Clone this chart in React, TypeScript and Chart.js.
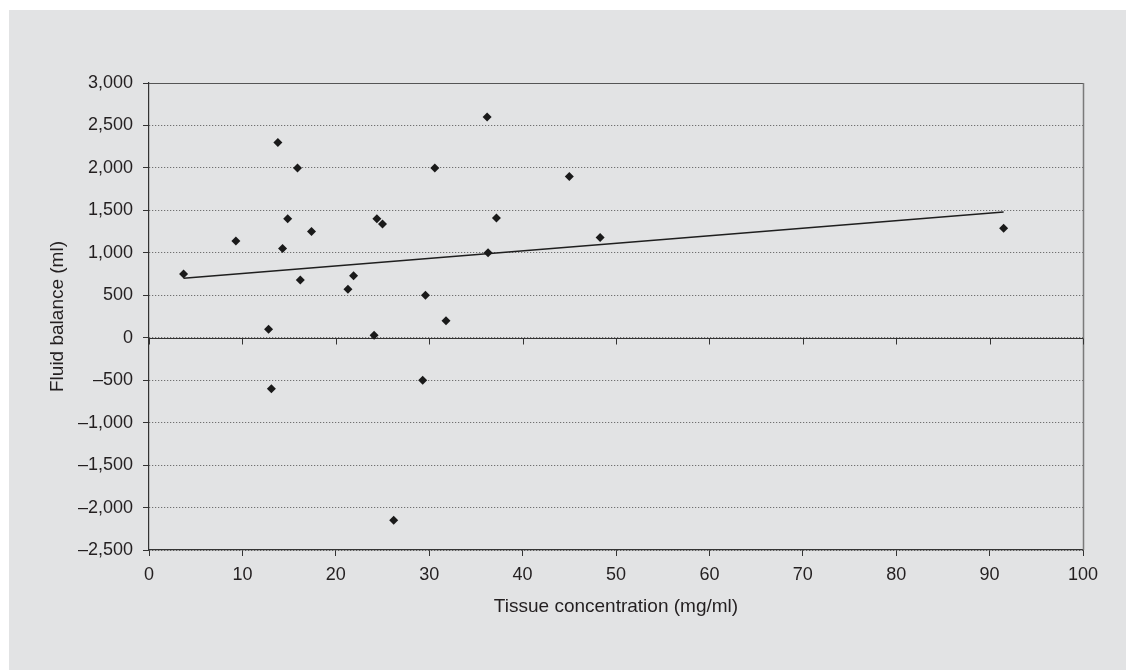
import React, { useEffect, useRef } from "react";
import { Chart, registerables } from "chart.js";

Chart.register(...registerables);

// Data
const tissueConcentration = [
  3.7, 9.3, 12.8, 13.1, 13.8, 14.3, 14.85, 15.9, 16.2, 17.4, 21.3, 21.9, 24.1,
  24.4, 25.0, 26.2, 29.3, 29.6, 30.6, 31.8, 36.2, 36.3, 37.2, 45.0, 48.3, 91.5,
];
const fluidBalance = [
  750, 1140, 100, -600, 2300, 1050, 1400, 2000, 680, 1250, 570, 730, 30, 1400,
  1340, -2150, -500, 500, 2000, 200, 2600, 1000, 1410, 1900, 1180, 1290,
];
const trendX = [3.7, 91.5];
const trendY = [700, 1480];

const xTicks = { min: 0, max: 100, step: 10 };
const yTicks = { min: -2500, max: 3000, step: 500 };

const xTitle = "Tissue concentration (mg/ml)";
const yTitle = "Fluid balance (ml)";

const FONT = "'Liberation Sans', Arial, Helvetica, sans-serif";
const TEXT = "#231f20";

const formatY = (v: number) => {
  const s = Math.abs(v).toLocaleString("en-US");
  return v < 0 ? "\u2013" + s : s;
};

const framePlugin = {
  id: "frame",
  beforeDatasetsDraw(chart: any) {
    const { ctx, chartArea } = chart;
    const xs = chart.scales.x;
    const ys = chart.scales.y;
    ctx.save();
    ctx.lineWidth = 1;
    // top border
    ctx.strokeStyle = "#555";
    ctx.beginPath();
    ctx.moveTo(chartArea.left, Math.round(chartArea.top) + 0.5);
    ctx.lineTo(chartArea.right, Math.round(chartArea.top) + 0.5);
    ctx.stroke();
    // right border
    ctx.strokeStyle = "#7a7a7a";
    ctx.lineWidth = 1.5;
    ctx.beginPath();
    ctx.moveTo(Math.round(chartArea.right) + 0.5, chartArea.top);
    ctx.lineTo(Math.round(chartArea.right) + 0.5, chartArea.bottom);
    ctx.stroke();
    // zero line with downward ticks
    const y0 = Math.round(ys.getPixelForValue(0)) + 0.5;
    ctx.strokeStyle = "#333";
    ctx.lineWidth = 1.2;
    ctx.beginPath();
    ctx.moveTo(chartArea.left, y0);
    ctx.lineTo(chartArea.right, y0);
    ctx.stroke();
    ctx.lineWidth = 1;
    for (let v = xTicks.min; v <= xTicks.max; v += xTicks.step) {
      const px = Math.round(xs.getPixelForValue(v)) + 0.5;
      ctx.beginPath();
      ctx.moveTo(px, y0);
      ctx.lineTo(px, y0 + 6);
      ctx.stroke();
    }
    ctx.restore();
  },
};

export default function App() {
  const ref = useRef<HTMLCanvasElement | null>(null);

  useEffect(() => {
    if (!ref.current) return;
    const chart = new Chart(ref.current, {
      type: "scatter",
      data: {
        datasets: [
          {
            type: "scatter",
            data: tissueConcentration.map((x, i) => ({ x, y: fluidBalance[i] })),
            pointStyle: "rectRot",
            pointRadius: 4.5,
            pointBackgroundColor: "#1a1a1a",
            pointBorderColor: "#1a1a1a",
            pointBorderWidth: 0,
          },
          {
            type: "line",
            data: trendX.map((x, i) => ({ x, y: trendY[i] })),
            showLine: true,
            borderColor: "#1f1f1f",
            borderWidth: 1.5,
            pointRadius: 0,
            fill: false,
          } as any,
        ],
      },
      plugins: [framePlugin],
      options: {
        animation: false,
        responsive: false,
        events: [],
        layout: { padding: { top: 73, right: 43, left: 0, bottom: 0 } },
        plugins: {
          legend: { display: false },
          tooltip: { enabled: false },
          title: { display: false },
        },
        scales: {
          x: {
            type: "linear",
            position: "bottom",
            min: xTicks.min,
            max: xTicks.max,
            afterFit: (s: any) => {
              s.height = 120;
            },
            ticks: {
              stepSize: xTicks.step,
              color: TEXT,
              font: { family: FONT, size: 18 },
              padding: 8,
            },
            grid: {
              drawOnChartArea: false,
              drawTicks: true,
              tickLength: 6,
              tickColor: "#333",
              tickBorderDash: [],
              color: "#333",
            },
            border: { display: true, color: "#333", width: 1.2 },
            title: {
              display: true,
              text: xTitle,
              color: TEXT,
              font: { family: FONT, size: 19 },
              padding: { top: 0, bottom: 52 },
            },
          },
          y: {
            type: "linear",
            position: "left",
            min: yTicks.min,
            max: yTicks.max,
            afterFit: (s: any) => {
              s.width = 140;
            },
            ticks: {
              stepSize: yTicks.step,
              color: TEXT,
              font: { family: FONT, size: 18 },
              padding: 10,
              callback: (v: any) => formatY(Number(v)),
            },
            grid: {
              drawOnChartArea: true,
              drawTicks: true,
              tickLength: 6,
              tickColor: "#333",
              tickBorderDash: [],
              color: "#555",
              lineWidth: 1,
            },
            border: { display: true, color: "#333", width: 1.2, dash: [1, 2] },
            title: {
              display: true,
              text: yTitle,
              color: TEXT,
              font: { family: FONT, size: 19 },
              padding: { top: 37, bottom: 0 },
            },
          },
        },
      },
    } as any);
    return () => chart.destroy();
  }, []);

  return (
    <div
      style={{
        position: "absolute",
        left: 9,
        top: 10,
        width: 1117,
        height: 660,
        background: "#e2e3e4",
      }}
    >
      <canvas ref={ref} width={1117} height={660} style={{ display: "block" }} />
    </div>
  );
}
